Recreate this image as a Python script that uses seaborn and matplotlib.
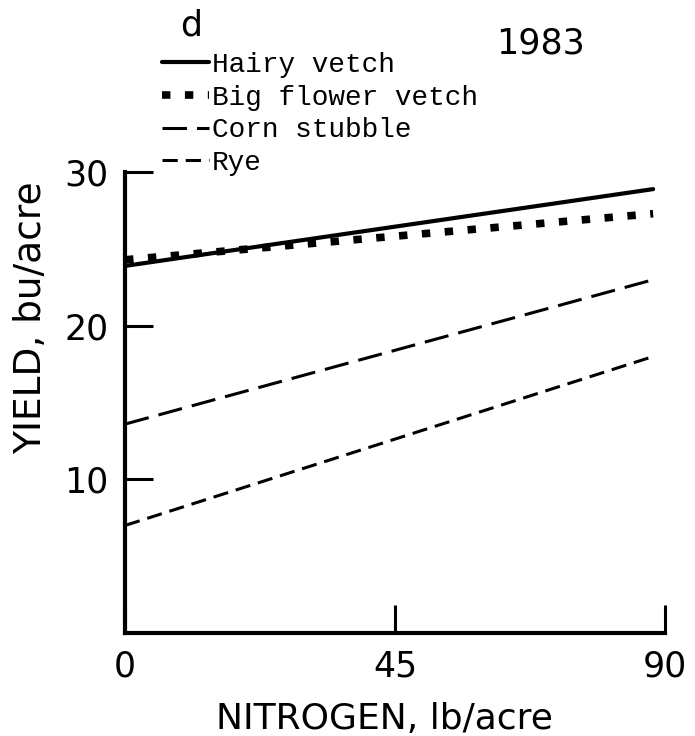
import matplotlib
matplotlib.use("Agg")
import numpy as np
import pandas as pd
import matplotlib.pyplot as plt
import seaborn as sns

# data (end points of the fitted lines)
nitrogen = [0, 88]
hairy_vetch = [23.9, 28.9]
big_flower_vetch = [24.3, 27.3]
corn_stubble = [13.6, 23.0]
rye = [7.0, 18.0]

series_names = ["Hairy vetch", "Big flower vetch", "Corn stubble", "Rye"]
series_values = [hairy_vetch, big_flower_vetch, corn_stubble, rye]

x_ticks = [0, 45, 90]
y_ticks = [10, 20, 30]

sns.set_style("white")
plt.rcParams["font.family"] = ["DejaVu Sans"]
plt.rcParams["text.color"] = "black"
plt.rcParams["axes.labelcolor"] = "black"

fig = plt.figure(figsize=(6.95, 7.36), dpi=100)
ax = fig.add_axes([0.180, 0.140, 0.777, 0.626])

# style per series: (linewidth, linestyle)
line_styles = {
    "Hairy vetch": (3.0, "-"),
    "Big flower vetch": (5.5, (0, (1.1, 1.9))),
    "Corn stubble": (2.2, (0, (8.0, 3.3))),
    "Rye": (2.2, (0, (5.0, 2.6))),
}

for name, vals in zip(series_names, series_values):
    df = pd.DataFrame({"N": nitrogen, "yield": vals})
    lw, ls = line_styles[name]
    sns.lineplot(data=df, x="N", y="yield", ax=ax, color="black",
                 linewidth=lw, linestyle=ls, label=name)

ax.set_xlim(0, 90)
ax.set_ylim(0, 30)
ax.set_xticks(x_ticks)
ax.set_yticks(y_ticks)
ax.tick_params(axis="both", direction="in", length=20, width=2.2,
               labelsize=25, color="black", labelcolor="black",
               left=True, bottom=True)
ax.tick_params(axis="x", pad=12)
ax.tick_params(axis="y", pad=12)

for side in ["top", "right"]:
    ax.spines[side].set_visible(False)
for side in ["left", "bottom"]:
    ax.spines[side].set_linewidth(3)
    ax.spines[side].set_color("black")

ax.set_xlabel("NITROGEN, lb/acre", fontsize=26)
ax.set_ylabel("YIELD, bu/acre", fontsize=27)
ax.xaxis.set_label_coords(0.48, -0.15)
ax.yaxis.set_label_coords(-0.14, 0.685)

leg = ax.legend(loc="upper left", bbox_to_anchor=(162 / 695, 1 - 52 / 736),
                bbox_transform=fig.transFigure, frameon=False,
                prop={"family": "Liberation Mono", "size": 20},
                handlelength=1.7, handletextpad=0.1, labelspacing=0.24,
                borderpad=0, borderaxespad=0)

fig.text(191 / 695, 1 - 26 / 736, "d", fontsize=25, ha="center", va="center")
fig.text(541 / 695, 1 - 44 / 736, "1983", fontsize=25, ha="center", va="center")

fig.savefig("out.png", dpi=100, facecolor="white")
